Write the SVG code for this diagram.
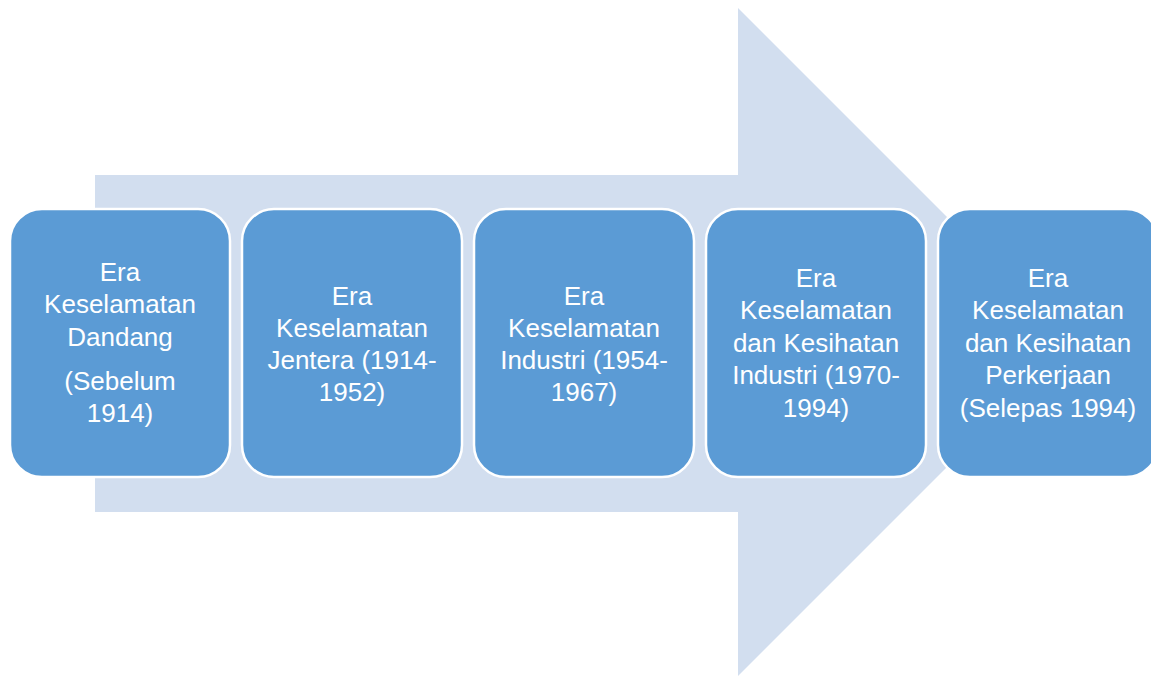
<svg xmlns="http://www.w3.org/2000/svg" width="1151" height="676" viewBox="0 0 1151 676">
<style>
.box{fill:#5B9BD5;stroke:#FFFFFF;stroke-width:2.5}
.t{font-family:"Liberation Sans",Arial,sans-serif;font-size:26px;fill:#FFFFFF;text-anchor:middle}
</style>
<rect width="1151" height="676" fill="#FFFFFF"/>
<g id="arrow">
<polygon points="95,175 738,175 738,8 1072,342 738,676 738,512 95,512" fill="#D2DEEF"/>
</g>
<g id="node1">
<rect class="box" x="10" y="209" width="220" height="268" rx="32"/>
<text class="t" x="120" y="281">Era</text>
<text class="t" x="120" y="313">Keselamatan</text>
<text class="t" x="120" y="346">Dandang</text>
<text class="t" x="120" y="390">(Sebelum</text>
<text class="t" x="120" y="422">1914)</text>
</g>
<g id="node2">
<rect class="box" x="242" y="209" width="220" height="268" rx="32"/>
<text class="t" x="352" y="305">Era</text>
<text class="t" x="352" y="337">Keselamatan</text>
<text class="t" x="352" y="369">Jentera (1914-</text>
<text class="t" x="352" y="401">1952)</text>
</g>
<g id="node3">
<rect class="box" x="474" y="209" width="220" height="268" rx="32"/>
<text class="t" x="584" y="305">Era</text>
<text class="t" x="584" y="337">Keselamatan</text>
<text class="t" x="584" y="369">Industri (1954-</text>
<text class="t" x="584" y="401">1967)</text>
</g>
<g id="node4">
<rect class="box" x="706" y="209" width="220" height="268" rx="32"/>
<text class="t" x="816" y="287">Era</text>
<text class="t" x="816" y="319">Keselamatan</text>
<text class="t" x="816" y="352">dan Kesihatan</text>
<text class="t" x="816" y="384">Industri (1970-</text>
<text class="t" x="816" y="417">1994)</text>
</g>
<g id="node5">
<rect class="box" x="938" y="209" width="220" height="268" rx="32"/>
<text class="t" x="1048" y="287">Era</text>
<text class="t" x="1048" y="319">Keselamatan</text>
<text class="t" x="1048" y="352">dan Kesihatan</text>
<text class="t" x="1048" y="384">Perkerjaan</text>
<text class="t" x="1048" y="417">(Selepas 1994)</text>
</g>
<g id="connectors"></g>
</svg>
